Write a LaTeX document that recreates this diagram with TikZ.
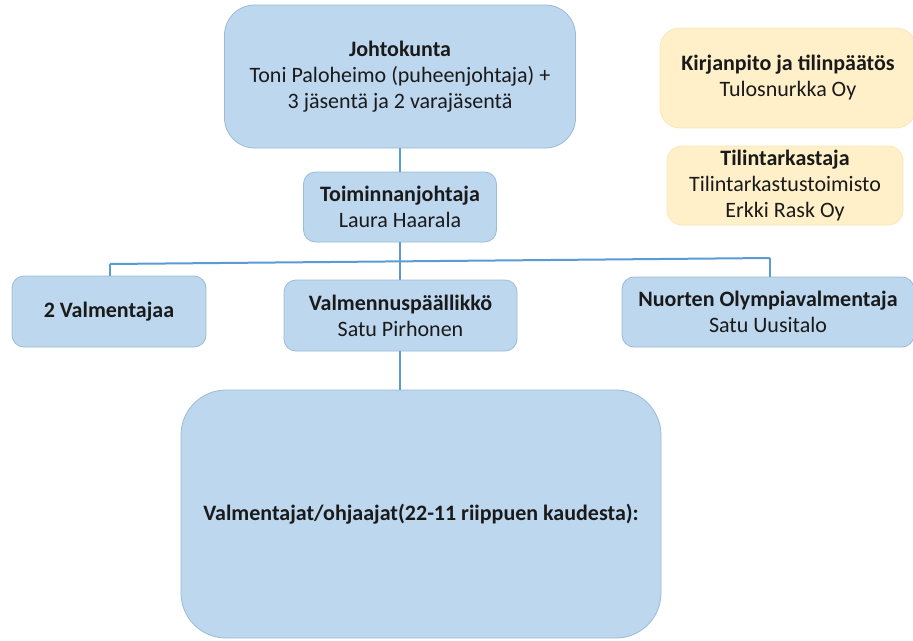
\documentclass[tikz,border=0pt]{standalone}
\usepackage{fontspec}
\setmainfont{Carlito}
\definecolor{boxblue}{HTML}{BDD7EE}
\definecolor{boxblueline}{HTML}{9BBBD9}
\definecolor{boxcream}{HTML}{FFF0C9}
\definecolor{boxcreamline}{HTML}{FBE7B5}
\definecolor{linkblue}{HTML}{5B9BD5}
\definecolor{txt}{HTML}{1A1A1A}
\tikzset{
  orgbox/.style={draw=boxblueline, fill=boxblue, line width=0.8pt, align=center,
    text=txt, font=\fontsize{22}{26}\selectfont, inner sep=2pt},
  extbox/.style={draw=boxcreamline, fill=boxcream, line width=0.8pt, align=center,
    text=txt, font=\fontsize{22}{26}\selectfont, inner sep=2pt},
  link/.style={draw=linkblue, line width=2pt}
}
\begin{document}
\begin{tikzpicture}[x=1pt,y=-1pt]
\useasboundingbox (0,0) rectangle (913,640);
\fill[white] (0,0) rectangle (913,640);

% board and management
\node[orgbox, minimum width=351pt, minimum height=143pt, rounded corners=30pt] (board) at (400,76.5)
  {\textbf{Johtokunta}\\Toni Paloheimo (puheenjohtaja) +\\3 jäsentä ja 2 varajäsentä};
\node[orgbox, minimum width=193pt, minimum height=70pt, rounded corners=12pt] (ed) at (400,207)
  {\textbf{Toiminnanjohtaja}\\Laura Haarala};

% external services
\node[extbox, minimum width=256pt, minimum height=100pt, rounded corners=20pt] (acc) at (788,78)
  {\textbf{Kirjanpito ja tilinpäätös}\\Tulosnurkka Oy};
\node[extbox, minimum width=236pt, minimum height=79pt, rounded corners=15pt] (audit) at (785,185.5)
  {\textbf{Tilintarkastaja}\\Tilintarkastustoimisto\\Erkki Rask Oy};

% staff
\node[orgbox, minimum width=194pt, minimum height=71pt, rounded corners=12pt] (coaches) at (109,311.5)
  {\textbf{2 Valmentajaa}};
\node[orgbox, minimum width=233pt, minimum height=71pt, rounded corners=12pt] (head) at (400.5,315.5)
  {\textbf{Valmennuspäällikkö}\\Satu Pirhonen};
\node[orgbox, minimum width=292pt, minimum height=70pt, rounded corners=12pt] (youth) at (768,312)
  {\textbf{Nuorten Olympiavalmentaja}\\Satu Uusitalo};
\node[orgbox, minimum width=480pt, minimum height=248pt, rounded corners=45pt] (instr) at (421,514)
  {\textbf{Valmentajat/ohjaajat(22-11 riippuen kaudesta):}};

% connectors
\coordinate (busL) at (110,264);
\coordinate (busM) at (400,262);
\coordinate (busR) at (770,258);
\draw[link] (board.south) -- (ed.north);
\draw[link] (ed.south) -- (busM);
\draw[link] (busL) -- (busR);
\draw[link] (busL) -- (busL |- coaches.north);
\draw[link] (busM) -- (busM |- head.north);
\draw[link] (busR) -- (busR |- youth.north);
\draw[link] (busM |- head.south) -- (busM |- instr.north);
\end{tikzpicture}
\end{document}
